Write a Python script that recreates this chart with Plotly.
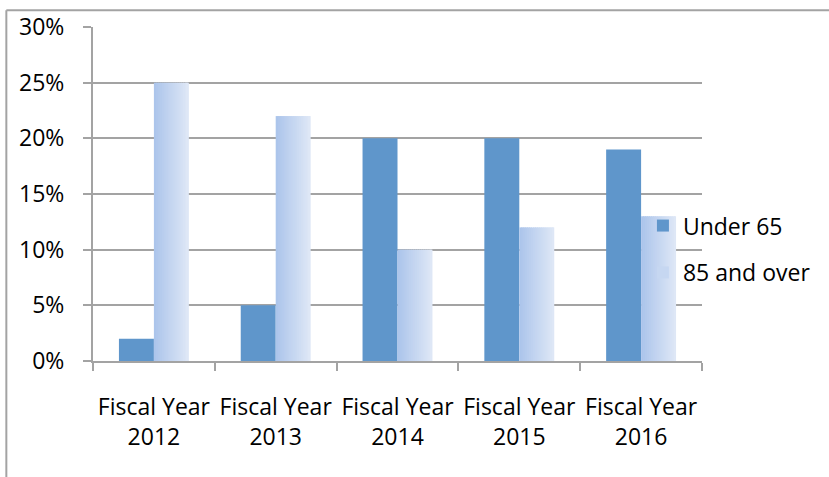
import plotly.graph_objects as go

# Share of cases by age group, per fiscal year
categories = ["Fiscal Year<br>2012", "Fiscal Year<br>2013", "Fiscal Year<br>2014",
              "Fiscal Year<br>2015", "Fiscal Year<br>2016"]
under_65 = [2, 5, 20, 20, 19]
over_85 = [25, 22, 10, 12, 13]
y_ticks = [0, 5, 10, 15, 20, 25, 30]
y_tick_labels = ["0%", "5%", "10%", "15%", "20%", "25%", "30%"]

FONT = dict(family="Open Sans", size=23, color="#000000")
GRID = "#a3a3a3"
BAR_W = 0.287          # width of each bar, in category units
N_SLICES = 18          # slices used to shade the gradient bars


def lerp_color(c0, c1, t):
    return "rgb({},{},{})".format(*[round(a + (b - a) * t) for a, b in zip(c0, c1)])


fig = go.Figure()

fig.add_trace(go.Bar(
    x=categories, y=under_65, name="Under 65",
    offset=-BAR_W, width=BAR_W,
    marker=dict(color="#5f96cb", line=dict(width=0)),
    legendgroup="a", hoverinfo="skip",
))

# "85 and over" bars: a left-to-right light blue gradient built from thin slices
left_rgb, right_rgb = (172, 197, 235), (222, 231, 246)
step = BAR_W / N_SLICES
for i in range(N_SLICES):
    t = i / (N_SLICES - 1)
    fig.add_trace(go.Bar(
        x=categories, y=over_85, name="85 and over",
        offset=i * step, width=step * (1.6 if i < N_SLICES - 1 else 1.0),
        marker=dict(color=lerp_color(left_rgb, right_rgb, t), line=dict(width=0)),
        legendgroup="b", showlegend=(i == N_SLICES // 2), hoverinfo="skip",
    ))

fig.update_layout(
    width=829, height=477,
    margin=dict(l=93, r=127, t=27, b=116, pad=0, autoexpand=False),
    paper_bgcolor="white", plot_bgcolor="white",
    font=FONT,
    barmode="overlay",
    showlegend=True,
    legend=dict(
        x=0.903, y=0.335, xanchor="left", yanchor="middle",
        bgcolor="rgba(0,0,0,0)", borderwidth=0,
        traceorder="grouped", tracegroupgap=14,
        font=FONT,
    ),
    xaxis=dict(
        type="category", range=[-0.5, 4.5], tickangle=0, automargin=False,
        showline=True, linecolor=GRID, linewidth=2,
        ticks="outside", tickson="boundaries", ticklen=8, tickwidth=2, tickcolor=GRID,
        showgrid=False, ticklabelstandoff=24, tickfont=FONT,
    ),
    yaxis=dict(
        range=[0, 30], tickvals=y_ticks, ticktext=y_tick_labels, automargin=False,
        showline=True, linecolor=GRID, linewidth=2,
        showgrid=True, gridcolor=GRID, gridwidth=2,
        ticks="outside", ticklen=8, tickwidth=2, tickcolor=GRID,
        zeroline=False, ticklabelstandoff=14, tickfont=FONT,
    ),
    shapes=[
        # chart frame: left and top edges
        dict(type="line", xref="paper", yref="paper",
             x0=-0.1423, x1=-0.1423, y0=1.05, y1=-0.5,
             line=dict(color=GRID, width=2)),
        dict(type="line", xref="paper", yref="paper",
             x0=-0.1423, x1=1.25, y0=1.05, y1=1.05,
             line=dict(color=GRID, width=2)),
    ],
)

fig.write_html("out.html")
